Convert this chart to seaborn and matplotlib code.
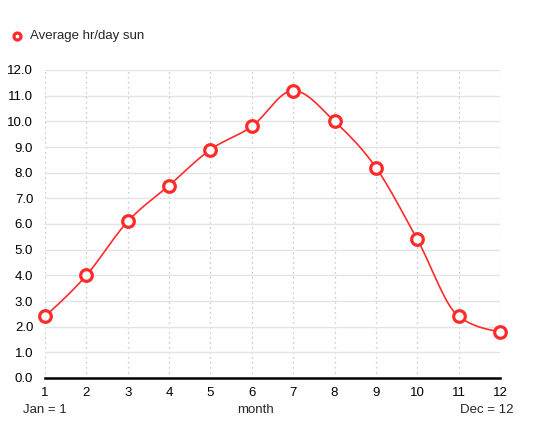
import numpy as np
import pandas as pd
import seaborn as sns
import matplotlib.pyplot as plt

# monthly average sunshine hours per day
months = [1, 2, 3, 4, 5, 6, 7, 8, 9, 10, 11, 12]
sun_hours = [2.4, 4.0, 6.1, 7.5, 8.9, 9.8, 11.2, 10.0, 8.2, 5.4, 2.4, 1.8]
y_ticks = [0, 1, 2, 3, 4, 5, 6, 7, 8, 9, 10, 11, 12]

RED = "#ff2b2b"


def monotone_curve(x, y, n=30):
    # monotone-x cubic curve through the points (same rule as d3's curveMonotoneX)
    x = np.asarray(x, float)
    y = np.asarray(y, float)
    h = np.diff(x)
    s = np.diff(y) / h
    m = np.zeros_like(y)
    for i in range(1, len(y) - 1):
        p = (s[i - 1] * h[i] + s[i] * h[i - 1]) / (h[i - 1] + h[i])
        m[i] = (np.sign(s[i - 1]) + np.sign(s[i])) * min(abs(s[i - 1]), abs(s[i]), 0.5 * abs(p))
    m[0] = (3 * s[0] - m[1]) / 2
    m[-1] = (3 * s[-1] - m[-2]) / 2
    xs, ys = [], []
    for i in range(len(x) - 1):
        t = np.linspace(0, 1, n, endpoint=False)
        h00 = 2 * t**3 - 3 * t**2 + 1
        h10 = t**3 - 2 * t**2 + t
        h01 = -2 * t**3 + 3 * t**2
        h11 = t**3 - t**2
        xs.append(x[i] + t * h[i])
        ys.append(h00 * y[i] + h10 * h[i] * m[i] + h01 * y[i + 1] + h11 * h[i] * m[i + 1])
    xs.append([x[-1]])
    ys.append([y[-1]])
    return np.concatenate(xs), np.concatenate(ys)


sns.set_style("white")
plt.rcParams["font.family"] = ["Liberation Sans", "DejaVu Sans"]
FS = 9.5

df = pd.DataFrame({"month": months, "sun": sun_hours})
cx, cy = monotone_curve(months, sun_hours)

fig = plt.figure(figsize=(5.43, 4.47), dpi=100)
ax = fig.add_axes([45 / 543, 1 - 378 / 447, 455 / 543, 308 / 447])

sns.lineplot(x=cx, y=cy, ax=ax, color=RED, linewidth=1.2, zorder=3)
sns.scatterplot(data=df, x="month", y="sun", ax=ax, s=70, facecolor="white",
                edgecolor=RED, linewidth=2.3, zorder=4, label="Average hr/day sun")

ax.set_xlim(1, 12)
ax.set_ylim(0, 12)
ax.set_xticks(months)
ax.set_yticks(y_ticks)
ax.set_yticklabels([f"{v:.1f}" for v in y_ticks])
ax.tick_params(axis="both", length=0, labelsize=FS, colors="black")
ax.tick_params(axis="x", pad=6.5)
ax.tick_params(axis="y", pad=8.5)

ax.grid(axis="y", color="#e4e4e4", linewidth=1)
ax.grid(axis="x", color="#b8b8b8", linewidth=0.9, linestyle=(0, (1, 3)))
for s in ["left", "right", "top"]:
    ax.spines[s].set_visible(False)
ax.spines["bottom"].set_color("black")
ax.spines["bottom"].set_linewidth(1.8)
ax.spines["bottom"].set_zorder(5)
for c in ax.collections + ax.lines:
    c.set_clip_on(False)

ax.set_xlabel("")
ax.set_ylabel("")
fig.text(256 / 543, 1 - 410 / 447, "month", ha="center", va="center", fontsize=FS)
fig.text(23 / 543, 1 - 410 / 447, "Jan = 1", ha="left", va="center", fontsize=FS)
fig.text(514 / 543, 1 - 410 / 447, "Dec = 12", ha="right", va="center", fontsize=FS)

leg = ax.legend(loc="upper left", bbox_to_anchor=(10 / 543, 1 - 30 / 447),
                bbox_transform=fig.transFigure, frameon=False, fontsize=FS,
                handlelength=1, handletextpad=0.5, borderpad=0,
                borderaxespad=0, markerscale=0.6)

fig.savefig("out.png", dpi=100)
